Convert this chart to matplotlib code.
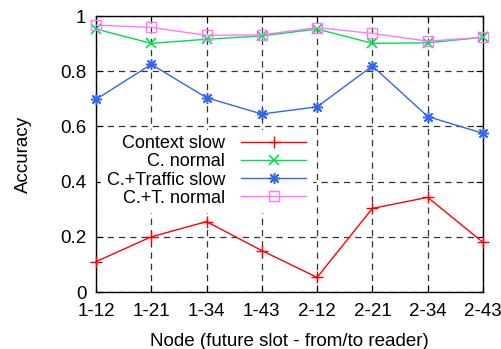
import matplotlib
matplotlib.use("Agg")
import matplotlib.pyplot as plt

nodes = ["1-12", "1-21", "1-34", "1-43", "2-12", "2-21", "2-34", "2-43"]
context_slow = [0.11, 0.20, 0.255, 0.15, 0.053, 0.303, 0.343, 0.18]
c_normal = [0.953, 0.901, 0.916, 0.928, 0.953, 0.901, 0.903, 0.923]
ct_slow = [0.698, 0.825, 0.704, 0.645, 0.671, 0.819, 0.636, 0.575]
ct_normal = [0.967, 0.959, 0.930, 0.932, 0.958, 0.937, 0.909, 0.923]
yticks = [0, 0.2, 0.4, 0.6, 0.8, 1]

plt.rcParams['font.family'] = ['Liberation Sans', 'DejaVu Sans']
fig = plt.figure(figsize=(5.01, 3.49), dpi=100)
ax = fig.add_axes([0.1916, 0.1633, 0.964 - 0.1916, 0.954 - 0.1633])

x = list(range(len(nodes)))
ax.plot(x, context_slow, color='#ff0000', lw=1, marker='+', ms=8, mew=1, label='Context slow', clip_on=False, zorder=3)
ax.plot(x, c_normal, color='#00e050', lw=1, marker='x', ms=7, mew=1.2, label='C. normal', clip_on=False, zorder=3)
ax.plot(x, ct_slow, color='#3366ee', lw=1, marker=(8, 2, 0), ms=8, mew=1.1, label='C.+Traffic slow', clip_on=False, zorder=3)
ax.plot(x, ct_normal, color='#ff77ff', lw=1, marker='s', ms=7, mew=1, mfc='none', label='C.+T. normal', clip_on=False, zorder=3)

ax.set_xlim(0, len(nodes) - 1)
ax.set_ylim(0, 1)
ax.set_xticks(x)
ax.set_xticklabels(nodes)
ax.set_yticks(yticks)
ax.set_yticklabels(['0', '0.2', '0.4', '0.6', '0.8', '1'])
ax.tick_params(direction='in', length=5, labelsize=13.5, top=True, right=True)
ax.tick_params(axis='x', pad=8)
ax.tick_params(axis='y', pad=7)
ax.grid(True, color='black', linestyle=(0, (5, 4)), lw=0.9, alpha=0.8)
for s in ax.spines.values():
    s.set_linewidth(1)
ax.set_xlabel('Node (future slot - from/to reader)', fontsize=13.5, labelpad=9)
ax.set_ylabel('Accuracy', fontsize=13.5, labelpad=20)

leg = ax.legend(loc='upper left', bbox_to_anchor=(-0.01, 0.62), frameon=True, fancybox=False,
                markerfirst=False, fontsize=13, handlelength=3.6, labelspacing=0.06,
                borderpad=0.3, handletextpad=0.9, framealpha=1, edgecolor='white')
leg.set_zorder(4)

fig.savefig('out.png', dpi=100)
